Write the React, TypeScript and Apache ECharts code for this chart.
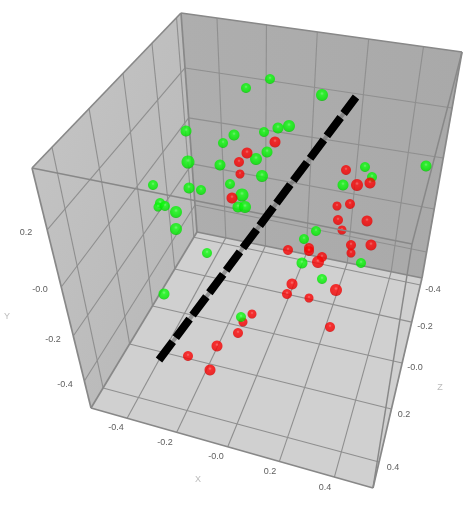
import React, { useEffect, useRef } from "react";
import * as echarts from "echarts";

// [screen x, screen y, marker diameter]
const greenPoints = [
  [186,131,10],[223,143,9],[234,135,10],[188,162,12],[220,165,10],[153,185,9],[189,188,10],[201,190,9],
  [230,184,9],[160,203,9],[158,207,8],[165,206,9],[176,212,11],[176,229,11],[207,253,9],[242,195,12],
  [238,207,10],[245,207,11],[256,159,11],[262,176,11],[246,88,9],[270,79,9],[322,95,11],[289,126,11],
  [278,128,10],[264,132,9],[267,152,10],[365,167,9],[372,177,9],[343,185,10],[426,166,10],[316,231,9],
  [304,239,9],[302,263,10],[322,279,9],[361,263,9],[164,294,10],
];
const redPoints = [
  [275,142,10],[247,153,10],[239,162,9],[240,174,8],[232,198,10],[346,170,9],[357,185,11],[370,183,10],
  [350,204,9],[337,206,8],[338,220,9],[367,221,10],[351,245,9],[371,245,10],[351,253,8],[288,250,9],
  [309,248,9],[309,251,9],[322,257,9],[318,262,11],[292,284,10],[287,294,9],[309,298,8],[336,290,11],
  [330,327,9],[217,346,10],[188,356,9],[210,370,10],[238,333,9],[252,314,8],[243,322,8],
];
const redBehindWire = [[342,230,8]];
const greenFront = [[241,317,9]];
const dashedLine = [[159,360],[356,97]];

const xTickLabels = ["-0.4","-0.2","-0.0","0.2","0.4"];
const yTickLabels = ["0.2","-0.0","-0.2","-0.4"];
const zTickLabels = ["-0.4","-0.2","-0.0","0.2","0.4"];
const xLabelAt = [[116,427],[165,442],[216,456],[270,471],[325,487]];
const yLabelAt = [[26,232],[40,289],[53,339],[65,384]];
const zLabelAt = [[433,289],[425,326],[415,367],[404,414],[393,467]];
const axisNames = [["X",198,479],["Y",7,316],["Z",440,387]];

// box corners: F/B = front/back, L/R = left/right, T = top, no T = floor
const FL=[91,408], FR=[373,488], BL=[197,232], BR=[422,278];
const TFL=[32,168], TFR=[412,244], TBL=[181,13], TBR=[462,52];

// where grid lines meet each box edge, as a fraction of that edge
const xFrac=[.128,.304,.485,.668,.863];
const zFloorL=[.114,.364,.58,.79,.97];
const zFloorR=[.124,.376,.595,.79,.967];
const zTopL=[.134,.383,.611,.805,.97];
const yFront=[.258,.496,.70,.8875];
const yBackL=[.251,.479,.689,.877];
const yBackR=[.248,.469,.695,.885];

const lerp=(a:number[],b:number[],t:number)=>[a[0]+(b[0]-a[0])*t,a[1]+(b[1]-a[1])*t];

const GRID="#8f8f8f", EDGE="#888888";

function sphere(hi:string, mid:string, base:string, rim:string){
  return new echarts.graphic.RadialGradient(0.5,0.38,0.64,[
    {offset:0,color:hi},{offset:0.25,color:mid},{offset:0.82,color:base},{offset:1,color:rim},
  ]);
}

export default function App(){
  const ref=useRef<HTMLDivElement>(null);
  useEffect(()=>{
    const chart=echarts.init(ref.current!,undefined,{renderer:"svg"});
    const green=sphere("#66ff66","#12ff12","#00e800","#00a800");
    const red=sphere("#ff6060","#ff0808","#f00000","#b00000");

    const renderBox=(_:any,api:any)=>{
      const c=(p:number[])=>api.coord(p);
      const poly=(pts:number[][],fill:any)=>({type:"polygon",shape:{points:pts.map(c)},style:{fill}});
      const line=(a:number[],b:number[],w=1.1,col=GRID)=>{
        const p=c(a),q=c(b);
        return {type:"line",shape:{x1:p[0],y1:p[1],x2:q[0],y2:q[1]},style:{stroke:col,lineWidth:w}};
      };
      const kids:any[]=[
        poly([TFL,TBL,BL,FL],new echarts.graphic.LinearGradient(0,0,1,1,[{offset:0,color:"#c6c6c6"},{offset:1,color:"#b6b6b6"}])),
        poly([TBL,TBR,BR,BL],new echarts.graphic.LinearGradient(0,0,1,0,[{offset:0,color:"#aeaeae"},{offset:1,color:"#a9a9a9"}])),
        poly([BL,BR,FR,FL],"#d0d0d0"),
      ];
      xFrac.forEach(t=>{
        kids.push(line(lerp(TBL,TBR,t),lerp(BL,BR,t)));
        kids.push(line(lerp(BL,BR,t),lerp(FL,FR,t)));
      });
      zFloorL.forEach((t,i)=>{
        kids.push(line(lerp(FL,BL,t),lerp(FR,BR,zFloorR[i])));
        kids.push(line(lerp(FL,BL,t),lerp(TFL,TBL,zTopL[i])));
      });
      yFront.forEach((t,i)=>{
        kids.push(line(lerp(TFL,FL,t),lerp(TBL,BL,yBackL[i])));
        kids.push(line(lerp(TBL,BL,yBackL[i]),lerp(TBR,BR,yBackR[i])));
      });
      [[TFL,TBL],[TBL,TBR],[TBR,BR],[BL,TBL],[FL,BL],[BL,BR],[BR,FR],[FR,FL],[TFL,FL]].forEach(e=>kids.push(line(e[0],e[1],1.7,EDGE)));
      return {type:"group",children:kids};
    };
    const renderWire=(_:any,api:any)=>{
      const c=(p:number[])=>api.coord(p);
      const line=(a:number[],b:number[])=>{
        const p=c(a),q=c(b);
        return {type:"line",shape:{x1:p[0],y1:p[1],x2:q[0],y2:q[1]},style:{stroke:EDGE,lineWidth:1.5}};
      };
      return {type:"group",children:[line(TFL,TFR),line(TFR,TBR),line(TFR,FR)]};
    };
    const dots=(data:number[][],color:any,z:number)=>({
      type:"scatter",data,z,symbol:"circle",symbolSize:(v:number[])=>v[2]+1,
      itemStyle:{color},silent:true,
    });
    const texts=(labels:string[],at:number[][],col:string,size:number)=>({
      type:"scatter",z:10,symbolSize:1,itemStyle:{color:"transparent"},silent:true,
      data:labels.map((s,i)=>({value:[at[i][0],at[i][1]],label:{formatter:s}})),
      label:{show:true,position:"inside",color:col,fontFamily:"'Liberation Sans',sans-serif",fontSize:size},
    });

    chart.setOption({
      animation:false,
      grid:{left:0,right:0,top:0,bottom:0},
      xAxis:{type:"value",min:0,max:476,show:false},
      yAxis:{type:"value",min:0,max:508,inverse:true,show:false},
      series:[
        {type:"custom",z:1,data:[[0,0]],renderItem:renderBox,silent:true,clip:false},
        dots(redBehindWire,red,2),
        {type:"custom",z:3,data:[[0,0]],renderItem:renderWire,silent:true,clip:false},
        dots(greenPoints,green,4),
        dots(redPoints,red,5),
        dots(greenFront,green,6),
        {type:"line",z:7,data:dashedLine,symbol:"none",silent:true,
          lineStyle:{color:"rgba(110,110,110,0.6)",width:4,cap:"butt"}},
        {type:"line",z:8,data:dashedLine,symbol:"none",silent:true,
          lineStyle:{color:"#000",width:8,type:[23,5],cap:"butt"}},
        texts(xTickLabels,xLabelAt,"#333",9),
        texts(yTickLabels,yLabelAt,"#333",9),
        texts(zTickLabels,zLabelAt,"#333",9),
        texts(axisNames.map(a=>a[0] as string),axisNames.map(a=>[a[1] as number,a[2] as number]),"#aaa",9),
      ],
    });
    return ()=>chart.dispose();
  },[]);
  return <div ref={ref} style={{position:"fixed",left:0,top:0,width:476,height:508,filter:"blur(0.25px)"}}/>;
}
